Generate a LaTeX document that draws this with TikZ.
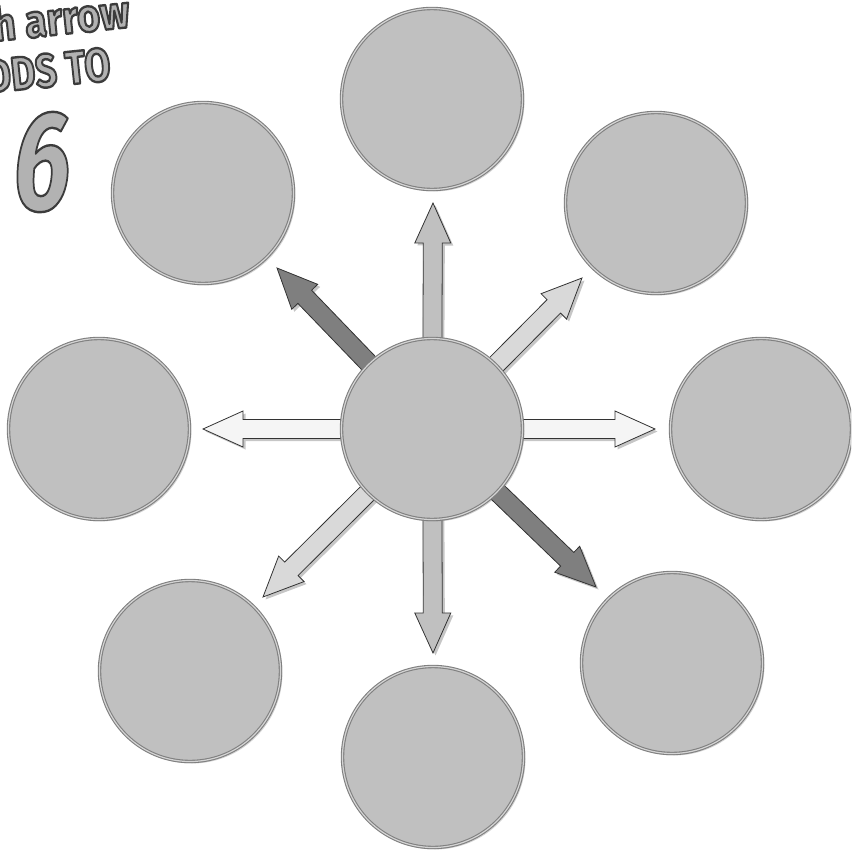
\documentclass[tikz,border=0pt]{standalone}
\usepackage{fontspec}
\usetikzlibrary{calc,shadows,backgrounds}
\newfontfamily\headfont{Fira Sans}
% Letras con contorno (modo de trazo del PDF)
\newcommand{\outlined}[1]{\special{pdf:literal direct 0.235 G 2.4 w 1 j 2 Tr}#1\special{pdf:literal direct 0 Tr}}

\definecolor{bubblefill}{HTML}{C0C0C0}
\definecolor{bubbleedge}{HTML}{808080}
\definecolor{bubblering}{HTML}{D4D4D4}
\definecolor{arrowline}{HTML}{333333}
\definecolor{arrowdark}{HTML}{7F7F7F}
\definecolor{arrowmid}{HTML}{C0C0C0}
\definecolor{arrowsoft}{HTML}{D9D9D9}
\definecolor{arrowpale}{HTML}{F5F5F5}
\definecolor{textfill}{HTML}{B2B2B2}

\tikzset{
  bubble/.style={circle, minimum size=181pt, inner sep=0pt, fill=bubblefill,
    draw=bubbleedge, line width=1.1pt, double=bubblering, double distance=1.2pt,
    drop shadow={shadow xshift=2pt, shadow yshift=-2pt, opacity=0.35}},
  fat arrow/.style={draw=arrowline, line width=0.8pt, line join=miter,
    drop shadow={shadow xshift=2.5pt, shadow yshift=-2.5pt, opacity=0.45},
    to path={
      ($(\tikztostart)!9.5pt!90:(\tikztotarget)$) --
      ($(\tikztotarget)!40pt!(\tikztostart)!9.5pt!90:(\tikztotarget)$) --
      ($(\tikztotarget)!40pt!(\tikztostart)!18pt!90:(\tikztotarget)$) --
      (\tikztotarget) --
      ($(\tikztotarget)!40pt!(\tikztostart)!18pt!-90:(\tikztotarget)$) --
      ($(\tikztotarget)!40pt!(\tikztostart)!9.5pt!-90:(\tikztotarget)$) --
      ($(\tikztostart)!9.5pt!-90:(\tikztotarget)$) -- cycle}},
  headline/.style={text=textfill, inner sep=0pt, rotate=6}
}

\begin{document}
\begin{tikzpicture}[x=1pt, y=-1pt]
    % Marco de la pagina
    \useasboundingbox (0,0) rectangle (851,851);
    \clip (0,0) rectangle (851,851);

    % Titulo
    \node[headline, anchor=base east, xscale=0.86] (title1) at (131,27)
        {\headfont\bfseries\fontsize{46}{46}\selectfont\outlined{Each arrow}};
    \node[headline, anchor=base east, xscale=0.8] (title2) at (112,80)
        {\headfont\bfseries\fontsize{47}{47}\selectfont\outlined{ADDS TO}};
    \node[headline, rotate=-6, xscale=0.72] (title3) at (42,162)
        {\headfont\bfseries\itshape\fontsize{142}{142}\selectfont\outlined{6}};

    % Circulo central
    \node[bubble] (hub) at (432,429) {};

    % Circulos exteriores
    \node[bubble] (top) at (432,99) {};
    \node[bubble] (topright) at (656,203) {};
    \node[bubble] (right) at (761,429) {};
    \node[bubble] (botright) at (672,663) {};
    \node[bubble] (bottom) at (433,757) {};
    \node[bubble] (botleft) at (190,671) {};
    \node[bubble] (left) at (99,429) {};
    \node[bubble] (topleft) at (203,193) {};

    % Puntas de las flechas
    \coordinate (tipN) at (433,203);
    \coordinate (tipNE) at (582,278);
    \coordinate (tipE) at (655,429);
    \coordinate (tipSE) at (596,587);
    \coordinate (tipS) at (433,653);
    \coordinate (tipSW) at (263,597);
    \coordinate (tipW) at (203,429);
    \coordinate (tipNW) at (277,268);

    % Flechas desde el centro
    \begin{scope}[on background layer]
        \draw[fat arrow, fill=arrowmid] (hub.center) to (tipN);
        \draw[fat arrow, fill=arrowsoft] (hub.center) to (tipNE);
        \draw[fat arrow, fill=arrowpale] (hub.center) to (tipE);
        \draw[fat arrow, fill=arrowdark] (hub.center) to (tipSE);
        \draw[fat arrow, fill=arrowmid] (hub.center) to (tipS);
        \draw[fat arrow, fill=arrowsoft] (hub.center) to (tipSW);
        \draw[fat arrow, fill=arrowpale] (hub.center) to (tipW);
        \draw[fat arrow, fill=arrowdark] (hub.center) to (tipNW);
    \end{scope}
\end{tikzpicture}
\end{document}
